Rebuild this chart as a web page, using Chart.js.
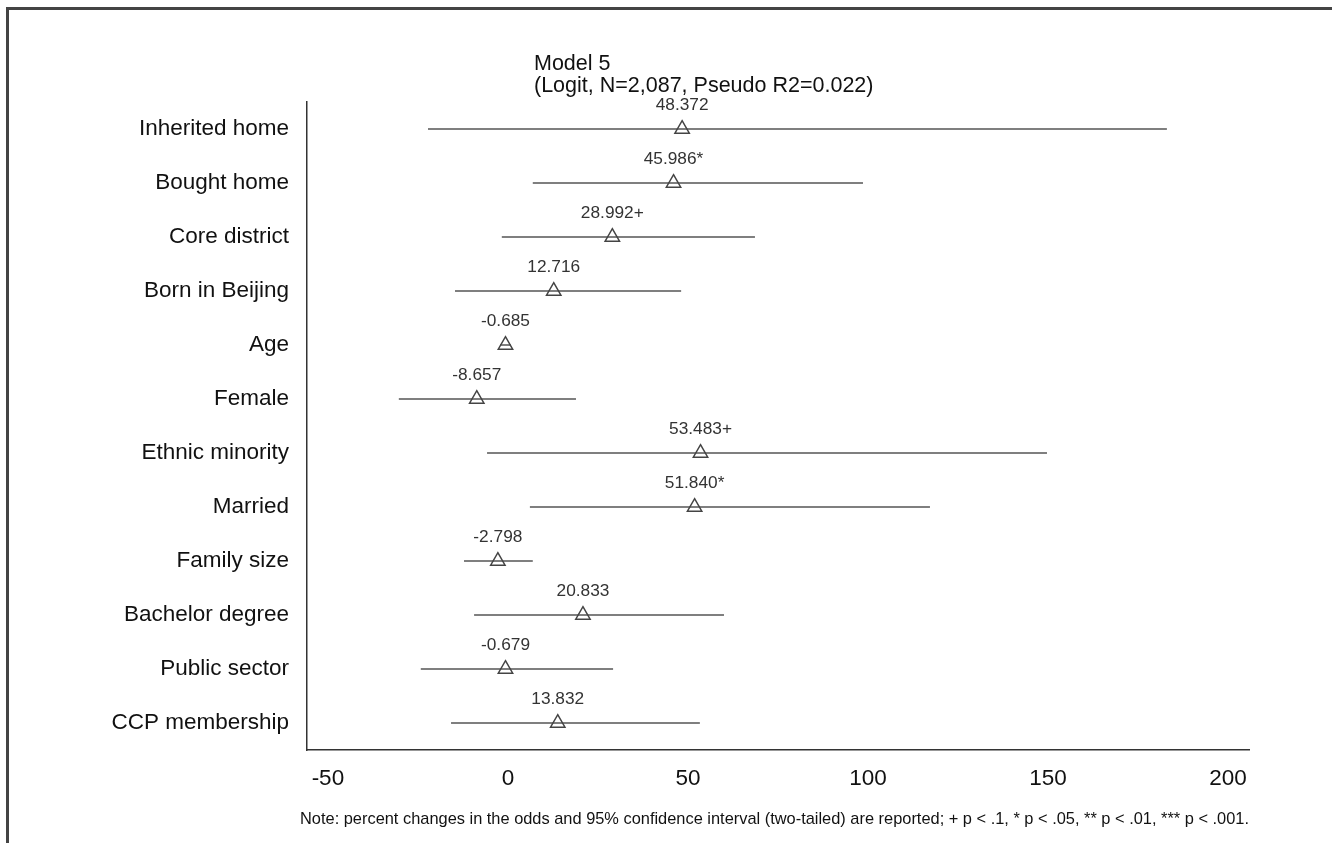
<!DOCTYPE html>
<html>
<head>
<meta charset="utf-8">
<script src="https://cdn.jsdelivr.net/npm/chart.js@4.4.0/dist/chart.umd.min.js"></script>
<style>
  html, body { margin: 0; padding: 0; background: #fff; }
  #wrap { position: relative; width: 1332px; height: 843px; }
</style>
</head>
<body>
<div id="wrap"><canvas id="c" width="1332" height="843"></canvas></div>
<script>
// Predictors, top to bottom
const categories = [
  'Inherited home', 'Bought home', 'Core district', 'Born in Beijing', 'Age', 'Female',
  'Ethnic minority', 'Married', 'Family size', 'Bachelor degree', 'Public sector', 'CCP membership'
];
// Percent change in the odds
const estimates = [48.372, 45.986, 28.992, 12.716, -0.685, -8.657, 53.483, 51.840, -2.798, 20.833, -0.679, 13.832];
// Significance markers
const sigMarks = ['', '*', '+', '', '', '', '+', '*', '', '', '', ''];
// 95% confidence interval bounds
const ciLow  = [-22.2, 6.9, -1.7, -14.7, -2.2, -30.3, -5.8, 6.1, -12.2, -9.4, -24.2, -15.8];
const ciHigh = [183.0, 98.6, 68.6, 48.1, 0.8, 18.9, 149.7, 117.2, 6.9, 60.0, 29.2, 53.3];
// Axis ticks
const xTicks = [-50, 0, 50, 100, 150, 200];

const titleLines = ['Model 5', '(Logit, N=2,087, Pseudo R2=0.022)'];
const noteText = 'Note: percent changes in the odds and 95% confidence interval (two-tailed) are reported; + p < .1, * p < .05, ** p < .01, *** p < .001.';

const FONT = '"Liberation Sans", Arial, Helvetica, sans-serif';

const ciDatasets = categories.map((name, i) => ({
  label: name + ' 95% CI',
  data: [{ x: ciLow[i], y: i }, { x: ciHigh[i], y: i }],
  showLine: true,
  borderColor: '#555',
  borderWidth: 1.5,
  pointRadius: 0,
  pointHoverRadius: 0,
  fill: false,
  order: 2
}));

const pointDataset = {
  label: 'Estimate',
  data: estimates.map((v, i) => ({ x: v, y: i })),
  pointStyle: 'triangle',
  pointRadius: 8.3,
  pointHoverRadius: 8.3,
  borderColor: '#444',
  borderWidth: 1.5,
  backgroundColor: 'rgba(0,0,0,0)',
  showLine: false,
  order: 1
};

// Title, value labels, note and outer frame
const decor = {
  id: 'decor',
  afterDraw(chart) {
    const ctx = chart.ctx;
    const xs = chart.scales.x, ys = chart.scales.y;
    ctx.save();

    ctx.strokeStyle = '#444';
    ctx.lineWidth = 3;
    ctx.beginPath();
    ctx.moveTo(7.5, 843);
    ctx.lineTo(7.5, 8.5);
    ctx.lineTo(1332, 8.5);
    ctx.stroke();

    ctx.fillStyle = '#111';
    ctx.font = '21.5px ' + FONT;
    ctx.textAlign = 'left';
    ctx.textBaseline = 'middle';
    titleLines.forEach((t, k) => ctx.fillText(t, 534, 64 + k * 22));

    ctx.font = '17.3px ' + FONT;
    ctx.fillStyle = '#333';
    ctx.textAlign = 'center';
    estimates.forEach((v, i) => {
      ctx.fillText(v.toFixed(3) + sigMarks[i], xs.getPixelForValue(v), ys.getPixelForValue(i) - 24);
    });

    ctx.font = '16.4px ' + FONT;
    ctx.fillStyle = '#111';
    ctx.textAlign = 'right';
    ctx.fillText(noteText, chart.chartArea.right, 819);

    ctx.restore();
  }
};

new Chart(document.getElementById('c'), {
  type: 'scatter',
  data: { datasets: [...ciDatasets, pointDataset] },
  options: {
    responsive: false,
    animation: false,
    devicePixelRatio: 1,
    layout: { padding: { top: 102, right: 83, bottom: 0, left: 0 } },
    plugins: { legend: { display: false }, tooltip: { enabled: false } },
    scales: {
      x: {
        type: 'linear',
        min: -55.8,
        max: 205.8,
        afterBuildTicks: s => { s.ticks = xTicks.map(v => ({ value: v })); },
        grid: { display: true, color: 'rgba(0,0,0,0)', drawTicks: false },
        border: { display: true, color: '#333', width: 1.5 },
        ticks: { font: { family: FONT, size: 22.5 }, color: '#111', padding: 15, maxRotation: 0, autoSkip: false },
        afterFit: s => { s.height = 93; }
      },
      y: {
        type: 'linear',
        reverse: true,
        min: -0.5,
        max: 11.5,
        afterBuildTicks: s => { s.ticks = categories.map((c, i) => ({ value: i })); },
        grid: { display: true, color: 'rgba(0,0,0,0)', drawTicks: false },
        border: { display: true, color: '#333', width: 1.5 },
        ticks: {
          callback: v => categories[v],
          font: { family: FONT, size: 22.5 },
          color: '#111',
          padding: 18,
          autoSkip: false
        },
        afterFit: s => { s.width = 307; }
      }
    }
  },
  plugins: [decor]
});
</script>
</body>
</html>
